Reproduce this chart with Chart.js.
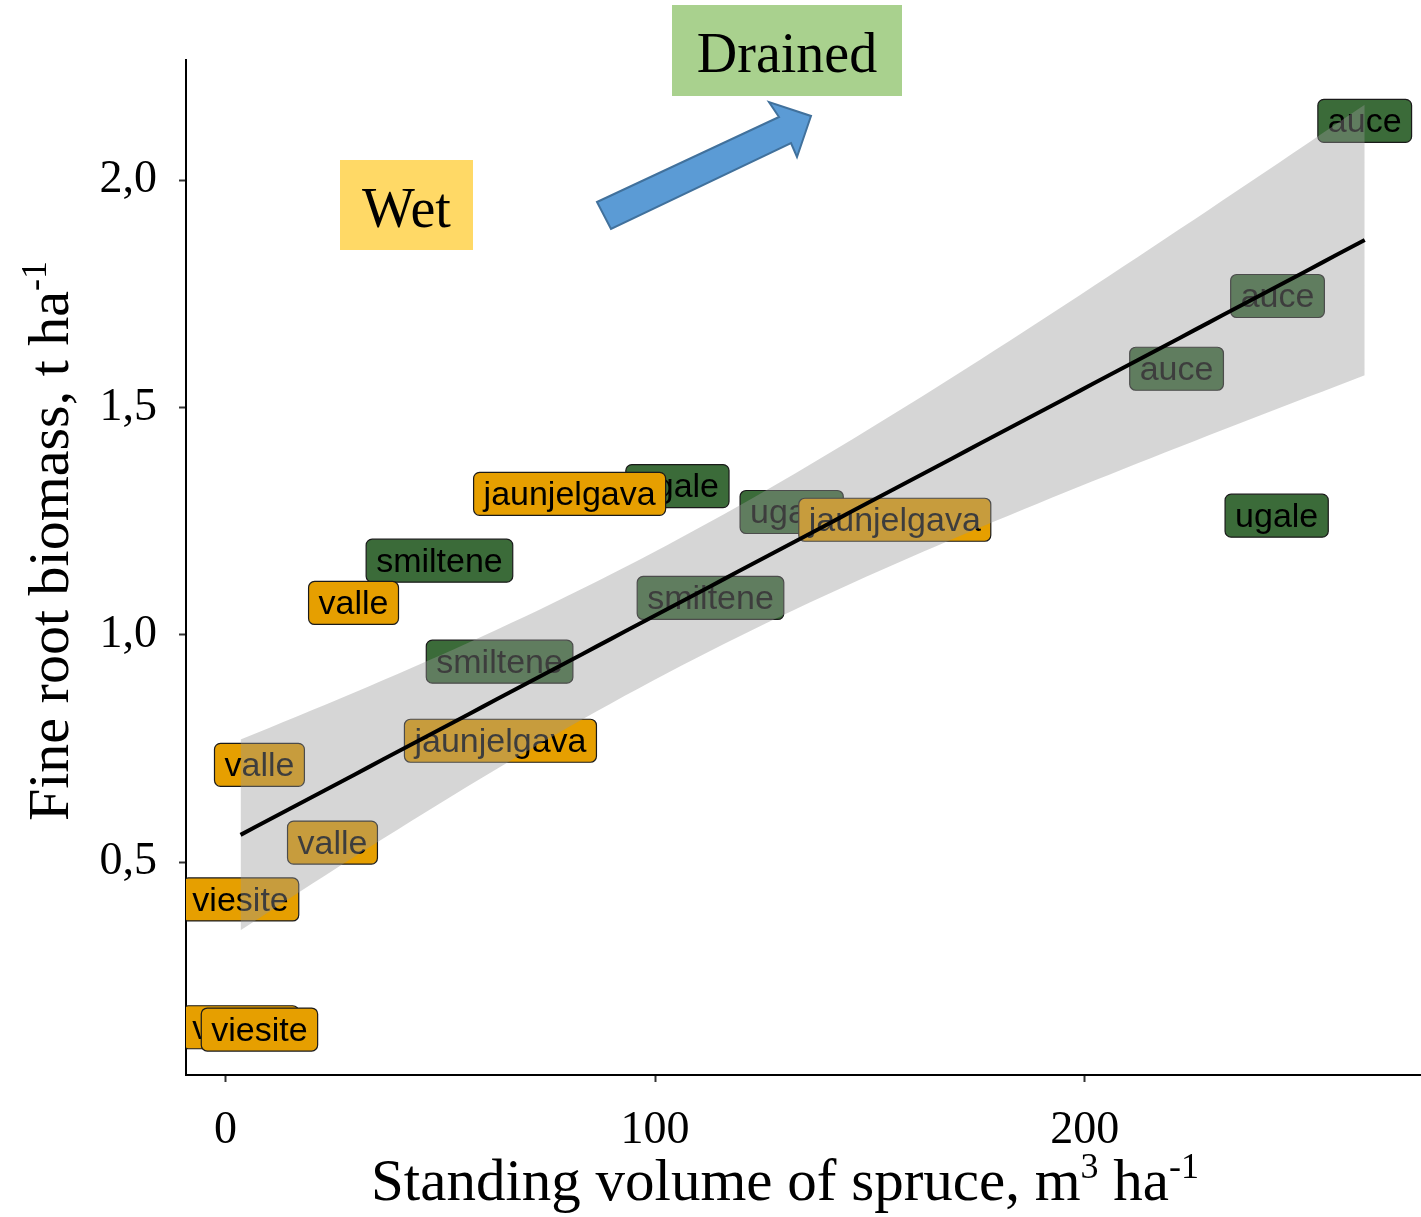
<!DOCTYPE html>
<html>
<head>
<meta charset="utf-8">
<script src="https://cdn.jsdelivr.net/npm/chart.js@4/dist/chart.umd.min.js"></script>
<style>
  html, body { margin: 0; padding: 0; background: #ffffff; }
  #wrap { width: 1421px; height: 1217px; position: relative; }
</style>
</head>
<body>
<div id="wrap"><canvas id="c" width="1421" height="1217"></canvas></div>
<script>
// Plot data: one entry per plot (site, water regime, spruce volume, fine root biomass)
const sites   = ['auce', 'auce', 'auce',
                 'ugale', 'ugale', 'ugale',
                 'smiltene', 'smiltene', 'smiltene',
                 'jaunjelgava', 'jaunjelgava', 'jaunjelgava',
                 'valle', 'valle', 'valle',
                 'viesite', 'viesite', 'viesite'];
const regimes = ['Drained', 'Drained', 'Drained',
                 'Drained', 'Drained', 'Drained',
                 'Drained', 'Drained', 'Drained',
                 'Wet', 'Wet', 'Wet',
                 'Wet', 'Wet', 'Wet',
                 'Wet', 'Wet', 'Wet'];
const volume  = [265.2, 244.9, 221.4,
                 244.7, 105.2, 131.8,
                 49.8, 112.9, 63.8,
                 80.1, 155.8, 64.0,
                 29.8, 7.9, 24.9,
                 3.5, 3.5, 7.9];
const biomass = [2.130, 1.745, 1.585,
                 1.262, 1.327, 1.270,
                 1.163, 1.081, 0.941,
                 1.310, 1.253, 0.767,
                 1.070, 0.714, 0.543,
                 0.137, 0.418, 0.132];

// Axis ticks
const xTicks = [0, 100, 200];
const xTickLabels = ['0', '100', '200'];
const yTicks = [0.5, 1.0, 1.5, 2.0];
const yTickLabels = ['0,5', '1,0', '1,5', '2,0'];

const regimeFill = { Drained: '#3b6b39', Wet: '#E69F00' };

// Linear fit with 95% confidence band (t quantile for n - 2 = 16 df)
const tQuantile = 2.1199;
function linearFit(xs, ys, steps) {
  const n = xs.length;
  const mx = xs.reduce((a, b) => a + b, 0) / n;
  const my = ys.reduce((a, b) => a + b, 0) / n;
  let sxx = 0, sxy = 0;
  for (let i = 0; i < n; i++) { sxx += (xs[i] - mx) ** 2; sxy += (xs[i] - mx) * (ys[i] - my); }
  const slope = sxy / sxx, icpt = my - slope * mx;
  let sse = 0;
  for (let i = 0; i < n; i++) sse += (ys[i] - icpt - slope * xs[i]) ** 2;
  const s = Math.sqrt(sse / (n - 2));
  const lo = Math.min(...xs), hi = Math.max(...xs);
  const fit = [], lower = [], upper = [];
  for (let k = 0; k < steps; k++) {
    const x = lo + (hi - lo) * k / (steps - 1);
    const yhat = icpt + slope * x;
    const se = s * Math.sqrt(1 / n + (x - mx) ** 2 / sxx);
    fit.push({ x, y: yhat });
    lower.push({ x, y: yhat - tQuantile * se });
    upper.push({ x, y: yhat + tQuantile * se });
  }
  return { fit, lower, upper };
}
const band = linearFit(volume, biomass, 80);

// Site labels (boxes with rounded corners) drawn under the confidence band
const siteLabels = {
  id: 'siteLabels',
  beforeDatasetsDraw(chart) {
    const ctx = chart.ctx, area = chart.chartArea;
    const meta = chart.getDatasetMeta(3);
    ctx.save();
    ctx.beginPath();
    ctx.rect(area.left, area.top, area.right - area.left, area.bottom - area.top);
    ctx.clip();
    ctx.font = '34px "Liberation Sans", Arial, sans-serif';
    ctx.textAlign = 'center';
    ctx.textBaseline = 'middle';
    meta.data.forEach((pt, i) => {
      const w = ctx.measureText(sites[i]).width + 20;
      const h = 43;
      const x0 = pt.x - w / 2, y0 = pt.y - h / 2;
      ctx.beginPath();
      ctx.roundRect(x0, y0, w, h, 6);
      ctx.fillStyle = regimeFill[regimes[i]];
      ctx.fill();
      ctx.lineWidth = 1.2;
      ctx.strokeStyle = '#1a1a1a';
      ctx.stroke();
      ctx.fillStyle = '#000000';
      ctx.fillText(sites[i], pt.x, pt.y + 2);
    });
    ctx.restore();
  }
};

// Text with superscript parts
function richText(ctx, parts, size, supSize, rise) {
  const widths = parts.map(p => {
    ctx.font = (p.sup ? supSize : size) + 'px "Liberation Serif", "Times New Roman", serif';
    return ctx.measureText(p.t).width;
  });
  const total = widths.reduce((a, b) => a + b, 0);
  let x = -total / 2;
  ctx.textAlign = 'left';
  ctx.textBaseline = 'alphabetic';
  parts.forEach((p, i) => {
    ctx.font = (p.sup ? supSize : size) + 'px "Liberation Serif", "Times New Roman", serif';
    ctx.fillText(p.t, x, p.sup ? -rise : 0);
    x += widths[i];
  });
}

const decorations = {
  id: 'decorations',
  afterDraw(chart) {
    const ctx = chart.ctx;
    ctx.save();
    ctx.fillStyle = '#000000';
    // x axis title
    ctx.save();
    ctx.translate(785, 1200);
    richText(ctx, [{ t: 'Standing volume of spruce, m' }, { t: '3', sup: true }, { t: ' ha' }, { t: '-1', sup: true }], 59, 36, 22);
    ctx.restore();
    // y axis title
    ctx.save();
    ctx.translate(68, 541);
    ctx.rotate(-Math.PI / 2);
    richText(ctx, [{ t: 'Fine root biomass, t ha' }, { t: '-1', sup: true }], 58, 36, 22);
    ctx.restore();

    // "Wet" box
    ctx.fillStyle = '#FFD966';
    ctx.fillRect(340, 160, 133, 90);
    // "Drained" box
    ctx.fillStyle = '#A9D18E';
    ctx.fillRect(672, 5, 230, 91);
    ctx.fillStyle = '#000000';
    ctx.font = '56px "Liberation Serif", "Times New Roman", serif';
    ctx.textAlign = 'center';
    ctx.textBaseline = 'alphabetic';
    ctx.fillText('Wet', 406.5, 227);
    ctx.fillText('Drained', 787, 72);

    // arrow from wet towards drained
    ctx.beginPath();
    ctx.moveTo(597, 202);
    ctx.lineTo(779, 117);
    ctx.lineTo(769, 102);
    ctx.lineTo(811, 116);
    ctx.lineTo(797, 157);
    ctx.lineTo(791, 143);
    ctx.lineTo(611, 229);
    ctx.closePath();
    ctx.fillStyle = '#5B9BD5';
    ctx.fill();
    ctx.lineWidth = 2;
    ctx.strokeStyle = '#41719C';
    ctx.stroke();
    ctx.restore();
  }
};

const tickFont = { family: '"Liberation Serif", "Times New Roman", serif', size: 46 };

new Chart(document.getElementById('c'), {
  type: 'scatter',
  data: {
    datasets: [
      { type: 'line', label: 'fit', data: band.fit, borderColor: '#000000', borderWidth: 4,
        pointRadius: 0, fill: false, tension: 0 },
      { type: 'line', label: 'lower', data: band.lower, borderWidth: 0, borderColor: 'rgba(0,0,0,0)',
        pointRadius: 0, fill: false },
      { type: 'line', label: 'upper', data: band.upper, borderWidth: 0, borderColor: 'rgba(0,0,0,0)',
        pointRadius: 0, fill: '-1', backgroundColor: 'rgba(153,153,153,0.4)' },
      { type: 'scatter', label: 'plots', data: volume.map((v, i) => ({ x: v, y: biomass[i] })),
        pointRadius: 0, pointHoverRadius: 0 }
    ]
  },
  options: {
    responsive: false,
    animation: false,
    devicePixelRatio: 1,
    layout: { padding: { top: 60, left: 0, right: 0, bottom: 0 } },
    plugins: { legend: { display: false }, tooltip: { enabled: false } },
    scales: {
      x: {
        type: 'linear', min: -9.2, max: 278.3,
        afterBuildTicks: s => { s.ticks = xTicks.map(v => ({ value: v })); },
        afterFit: s => { s.height = 142; },
        ticks: { callback: v => xTickLabels[xTicks.indexOf(v)], font: tickFont, color: '#000', padding: 21, maxRotation: 0 },
        grid: { display: true, drawOnChartArea: false, drawTicks: true, tickLength: 7, tickWidth: 2, color: '#333333' },
        border: { display: true, color: '#000000', width: 2 }
      },
      y: {
        type: 'linear', min: 0.032, max: 2.264,
        afterBuildTicks: s => { s.ticks = yTicks.map(v => ({ value: v })); },
        afterFit: s => { s.width = 186; },
        ticks: { callback: v => yTickLabels[yTicks.indexOf(v)], font: tickFont, color: '#000', padding: 22 },
        grid: { display: true, drawOnChartArea: false, drawTicks: true, tickLength: 7, tickWidth: 2, color: '#333333' },
        border: { display: true, color: '#000000', width: 2 }
      }
    }
  },
  plugins: [siteLabels, decorations]
});
</script>
</body>
</html>
